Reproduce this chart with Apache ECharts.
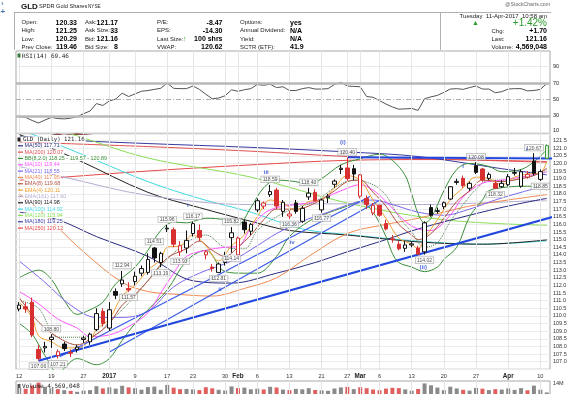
<!DOCTYPE html>
<html><head><meta charset="utf-8">
<script src="https://cdn.jsdelivr.net/npm/echarts@6.0.0/dist/echarts.min.js"></script>
<style>html,body{margin:0;padding:0;background:#fff;}#chart{width:585px;height:394px;}</style>
</head><body><div id="chart"></div>
<script>
// ---------- DATA ----------
const dates = ['2016-12-12','2016-12-13','2016-12-14','2016-12-15','2016-12-16','2016-12-19','2016-12-20','2016-12-21','2016-12-22','2016-12-23','2016-12-27','2016-12-28','2016-12-29','2016-12-30','2017-01-03','2017-01-04','2017-01-05','2017-01-06','2017-01-09','2017-01-10','2017-01-11','2017-01-12','2017-01-13','2017-01-17','2017-01-18','2017-01-19','2017-01-20','2017-01-23','2017-01-24','2017-01-25','2017-01-26','2017-01-27','2017-01-30','2017-01-31','2017-02-01','2017-02-02','2017-02-03','2017-02-06','2017-02-07','2017-02-08','2017-02-09','2017-02-10','2017-02-13','2017-02-14','2017-02-15','2017-02-16','2017-02-17','2017-02-21','2017-02-22','2017-02-23','2017-02-24','2017-02-27','2017-02-28','2017-03-01','2017-03-02','2017-03-03','2017-03-06','2017-03-07','2017-03-08','2017-03-09','2017-03-10','2017-03-13','2017-03-14','2017-03-15','2017-03-16','2017-03-17','2017-03-20','2017-03-21','2017-03-22','2017-03-23','2017-03-24','2017-03-27','2017-03-28','2017-03-29','2017-03-30','2017-03-31','2017-04-03','2017-04-04','2017-04-05','2017-04-06','2017-04-07','2017-04-10','2017-04-11'];

const open = [110.45,110.6,110.9,107.8,107.9,108.45,107.4,108.15,107.6,107.8,
108.45,108.3,109.1,110.3,109.2,111.6,112.1,111.8,112.25,112.8,
112.85,114.45,113.5,115.7,115.65,114.2,114.45,115.4,115.6,114.0,
113.2,112.85,113.5,115.13,114.0,116.15,115.55,116.95,117.2,117.95,
118.25,116.85,116.55,117.4,116.2,117.8,118.1,116.95,117.75,118.63,
119.6,119.7,119.65,117.85,117.7,116.75,117.25,116.05,115.05,114.7,
114.43,114.65,114.45,114.2,117.1,116.85,117.16,117.66,118.75,119.02,
118.37,119.85,119.63,119.02,118.69,118.47,118.6,119.35,118.5,119.1,
120.15,118.95,120.33];
const high = [110.9,110.9,111.2,108.1,108.3,108.8,107.8,108.3,107.8,108.1,
108.7,108.9,110.5,110.5,110.9,111.8,112.94,112.2,112.9,113.3,
114.1,114.51,114.2,115.96,115.8,114.9,115.6,116.17,116.0,114.3,
113.4,113.5,114.2,115.82,115.2,116.3,116.1,117.7,117.5,118.59,
118.4,117.6,116.9,117.6,117.2,118.4,118.3,117.7,118.0,118.95,
119.9,120.4,119.9,119.3,117.9,117.4,117.3,116.3,115.3,114.9,
114.9,114.9,114.6,116.2,117.3,117.1,117.5,118.5,119.0,119.2,
118.8,120.08,119.7,119.4,118.9,118.9,119.3,119.7,119.6,119.5,
120.67,119.6,121.25];
const low = [110.3,110.2,108.6,107.06,107.6,107.9,107.21,107.7,107.3,107.6,
108.2,108.1,109.0,109.3,109.0,111.1,111.9,111.57,112.0,112.6,
112.7,113.5,113.19,115.5,114.5,113.93,114.1,115.2,114.9,113.7,
112.9,112.81,113.3,114.14,113.9,115.4,115.3,116.8,117.0,117.8,
117.0,116.5,116.36,116.7,116.1,117.6,117.5,116.77,117.4,118.4,
119.3,118.85,118.9,117.7,117.0,116.6,116.5,115.6,114.8,114.3,
114.2,114.5,114.0,114.02,116.5,116.7,117.0,117.6,118.6,118.4,
118.2,119.3,118.8,118.9,118.32,118.4,118.5,119.2,118.4,119.0,
119.2,118.85,120.29];
const close = [110.7,110.45,108.75,107.2,108.0,108.6,107.65,107.85,107.55,107.95,
108.55,108.8,110.15,109.5,110.4,111.35,112.35,111.7,112.6,113.1,
113.7,113.8,114.1,115.75,114.7,114.6,114.95,116.05,115.15,114.2,
113.1,113.4,113.9,115.45,115.1,115.65,116.0,117.55,117.4,118.15,
117.2,117.45,116.68,116.85,117.05,118.05,117.55,117.6,117.85,118.84,
119.68,119.0,119.3,119.25,117.3,117.25,116.6,115.7,115.0,114.4,
114.65,114.72,114.05,116.1,116.6,116.9,117.42,118.47,118.82,118.54,
118.69,119.41,118.91,119.28,118.37,118.69,119.13,119.4,119.45,119.28,
119.35,119.46,121.16];
const volumeM = [9.1,8.2,11.5,14.4,10.3,8.7,7.9,6.8,6.1,5.2,
6.4,6.9,10.8,8.6,9.7,8.4,11.2,9.6,8.8,7.3,
9.9,10.4,7.1,12.1,9.3,7.8,8.1,7.6,6.9,9.8,
8.7,7.2,6.5,10.6,8.9,9.4,7.7,8.3,7.6,10.2,
9.5,7.4,6.9,8.1,7.7,8.8,7.0,6.6,6.2,8.5,
9.6,10.1,7.9,9.7,8.8,7.5,6.7,8.4,9.2,8.9,
7.6,6.3,8.0,13.6,11.7,9.4,6.8,10.3,8.6,7.2,
6.4,9.1,8.3,6.9,7.8,7.4,8.6,7.1,8.9,6.7,
11.4,7.3,4.57];
const rsi = [29.1,28.2,24.5,21.4,25,28.2,26.8,26.4,27.3,29,
32.7,35.9,45,42.7,48.2,50.5,57.7,53.6,56.8,60,
60.9,62.3,63.6,70,63.6,63.2,63.2,66.4,62.3,56.4,
50.9,51.8,54.5,61.8,60,61.8,63.2,68.2,67.3,68.6,
64.5,65.5,60.9,60.9,63.2,64.5,62.7,62.7,63.2,68.2,
70.9,66.4,65.9,65.5,53.6,52.7,48.6,44.5,40.9,38.2,
38.6,39.1,36.8,50.9,53.2,55,58.6,62.7,63.2,62.3,
64.5,66.4,62.7,62.7,58.2,59.5,62.7,63.2,63.2,60.5,
60.9,62.3,69.46];
const rsiTicks = [10,30,50,70,90];

// x-axis tick labels (trading-day index -> text)
const tickIdx  = [0,5,10,14,18,23,27,32,34,37,42,47,51,53,56,61,66,71,76,81];
const tickText = ['12','19','27','2017','9','17','23','30','Feb','6','13','21','27','Mar','6','13','20','27','Apr','10'];
const boldTicks = ['2017','Feb','Mar','Apr'];

// overlay lines: [day index, price]
const ma50  = [[0,116.8],[6,116.3],[12,115.2],[20,113.9],[27,112.3],[33,112.15],[40,112.8],[46,113.5],[51,114.2],[57,115.0],[62,115.7],[70,116.6],[76,117.2],[82,117.71]];
const ma200 = [[0,121.4],[20,121.1],[36,120.8],[51,120.45],[64,120.3],[82,120.07]];
const bbUpper = [[0,112.5],[3,113.0],[5,112.4],[7,111.0],[9,110.1],[11,110.4],[13,110.9],[15,112.1],[18,113.2],[20,114.3],[22,115.6],[24,116.15],[26,116.1],[29,116.4],[32,116.3],[34,116.0],[36,117.1],[38,118.4],[40,118.9],[43,118.8],[45,118.6],[47,119.0],[50,119.9],[53,120.3],[56,120.6],[58,120.2],[60,119.2],[61,118.0],[62,116.7],[63,116.1],[64,116.4],[66,118.2],[68,119.6],[70,120.0],[73,119.8],[75,119.45],[78,119.6],[80,120.1],[82,120.89]];
const bbMid = [[0,111.0],[3,110.5],[6,108.6],[9,108.6],[12,108.8],[14,109.6],[16,110.4],[18,111.3],[20,112.3],[23,113.7],[26,114.8],[29,115.3],[32,114.5],[35,114.4],[37,115.6],[40,116.5],[43,117.1],[46,117.5],[49,118.4],[52,118.9],[55,118.6],[57,117.9],[59,116.5],[61,115.5],[63,114.5],[65,114.8],[67,116.2],[69,117.3],[71,118.3],[73,118.9],[76,118.9],[79,119.1],[82,119.57]];
const bbLower = [[0,109.5],[2,108.8],[4,107.4],[6,106.3],[9,107.2],[12,106.8],[14,107.2],[16,108.4],[18,109.5],[20,110.4],[23,111.7],[26,113.6],[29,114.3],[32,112.9],[35,112.8],[37,112.8],[40,113.9],[42,115.2],[45,116.2],[47,116.6],[51,117.2],[53,117.5],[55,116.8],[57,115.2],[58,114.1],[59,113.5],[61,113.2],[63,112.9],[65,113.2],[66,113.7],[68,114.5],[70,116.5],[72,117.6],[73,118.2],[75,118.4],[78,118.5],[80,118.5],[82,118.25]];
const ma10 = [[0,111.6],[3,110.8],[6,109.8],[9,109.2],[11,108.65],[14,108.75],[17,109.3],[20,110.2],[22,111.5],[24,112.8],[26,113.9],[29,114.3],[32,114.5],[34,114.55],[36,115.8],[38,116.7],[40,117.1],[43,117.3],[46,117.5],[50,118.2],[53,118.6],[55,118.25],[57,117.5],[60,116.2],[62,115.7],[64,115.6],[67,116.6],[69,117.8],[72,118.7],[75,118.9],[78,119.1],[81,119.35],[82,119.44]];
const ma21 = [[0,113.6],[4,112.2],[8,110.7],[12,109.9],[16,109.9],[20,110.3],[24,111.9],[28,112.8],[33,113.6],[37,114.6],[40,115.4],[44,116.2],[48,116.8],[52,117.4],[55,117.6],[58,117.3],[62,116.8],[66,116.6],[70,117.0],[74,117.6],[78,118.1],[82,118.55]];
const ma40 = [[0,118.0],[3,117.0],[6,115.8],[10,114.2],[16,112.2],[20,111.6],[25,111.4],[30,111.3],[35,111.8],[40,112.5],[45,113.9],[51,115.4],[57,116.0],[62,116.4],[70,117.2],[76,117.6],[82,117.95]];
const ema8 = [[0,111.2],[3,109.6],[6,108.6],[9,108.1],[12,108.8],[14,109.5],[16,110.7],[18,111.4],[20,112.3],[23,113.8],[26,114.4],[28,114.9],[30,114.3],[32,113.9],[34,114.5],[36,115.3],[38,116.3],[40,117.0],[43,117.0],[46,117.4],[49,118.2],[51,118.8],[53,118.9],[55,118.1],[57,117.2],[59,116.0],[61,115.3],[62,115.0],[64,115.4],[66,116.4],[68,117.5],[70,118.2],[72,118.9],[75,118.8],[78,119.0],[80,119.2],[82,119.68]];
const ema4 = [[0,110.9],[2,109.9],[3,108.7],[5,108.3],[7,107.9],[9,107.9],[11,108.4],[12,109.1],[14,109.8],[16,111.3],[18,112.0],[20,113.0],[22,113.7],[23,114.5],[25,114.6],[27,115.3],[29,114.6],[31,113.6],[33,114.6],[35,115.3],[37,116.5],[39,117.6],[41,117.4],[43,116.9],[45,117.5],[47,117.6],[49,118.4],[51,119.2],[53,118.9],[55,117.6],[57,116.4],[59,115.1],[61,114.7],[62,114.4],[63,115.1],[65,116.3],[67,117.6],[69,118.4],[71,119.1],[73,119.0],[75,118.6],[77,119.1],[79,119.3],[81,119.4],[82,120.11]];
const ema161 = [[0,119.8],[7,119.1],[20,117.9],[36,117.3],[51,117.35],[62,117.3],[82,117.6]];
const ma90  = [[0,121.9],[9,120.25],[20,118.1],[28,117.1],[36,116.2],[42,115.6],[51,115.3],[62,114.85],[72,114.7],[82,114.98]];
const ma100 = [[0,122.2],[3,121.75],[12,120.2],[20,118.8],[28,117.7],[36,116.8],[44,115.7],[52,115.3],[62,114.9],[72,114.7],[82,114.92]];
const ma120 = [[5,122.3],[9,121.8],[20,120.35],[36,119.1],[51,117.4],[66,116.3],[82,115.94]];
const ma180 = [[0,121.8],[9,121.5],[20,121.3],[36,121.05],[51,120.75],[62,120.45],[75,119.65],[82,119.25]];
const ma250 = [[0,118.9],[7,119.1],[20,119.5],[36,119.9],[51,120.2],[64,120.25],[82,120.12]];

// drawn trend lines
const trendSupport = [[3,107.06],[83,116.5]];
const trendResist  = [[51,120.4],[83,120.32]];
const trendUp1 = [[6.3,107.32],[54.5,117.83]];
const trendUp2 = [[14.1,107.65],[56.1,117.6]];

// price annotations
const annHigh = [[5,108.80],[16,112.94],[21,114.51],[23,115.96],[27,116.17],[33,115.82],[39,118.59],[45,118.40],[51,120.40],[71,120.08],[80,120.67]];
const annLow  = [[3,107.06],[6,107.21],[17,111.57],[22,113.19],[25,113.93],[31,112.81],[33,114.14],[42,116.36],[47,116.77],[63,114.02],[74,118.32],[81,118.85]];
const waveText = ['i','ii','iii','iv','(i)','(ii)','i','i'];
const wavePos  = [[26.2,117.27],[31.2,111.76],[38.4,119.43],[42.4,114.8],[50.3,121.37],[62.8,113.2],[69,119.78],[78.9,120.94]];

const legendItems = [
  ['MA(50) 117.71','#2a2a80'],['MA(200) 120.07','#e05050'],['BB(8,2.0) 118.25 - 119.57 - 120.89','#3a8f3a'],
  ['MA(10) 119.44','#ff55ff'],['MA(21) 118.55','#7b68ee'],['MA(40) 117.95','#f08a50'],['EMA(8) 119.68','#b05040'],
  ['EMA(4) 120.11','#f0a030'],['EMA(161) 117.60','#b4acd0'],['MA(90) 114.98','#222222'],['MA(100) 114.92','#40d8e0'],
  ['MA(120) 115.94','#88dd55'],['MA(180) 119.25','#3a3aa0'],['MA(250) 120.12','#e84848']
];

// ---------- CHART ----------
const FONT = 'Liberation Sans, Arial, sans-serif';
const chart = echarts.init(document.getElementById('chart'), null, {renderer:'canvas'});

const RSI_TOP = 51, RSI_H = 83, RSI_MIN = 8, RSI_MAX = 109;

const lineDefs = [
  [ma250,'#e84848',1,'solid'],[ma200,'#e05050',1,'solid'],[ma180,'#3a3aa0',1,'solid'],
  [ma120,'#88dd55',1,'solid'],[ma100,'#40d8e0',1,'solid'],[ma90,'#222222',1,'solid'],
  [ema161,'#b4acd0',1,'solid'],[ma50,'#2a2a80',1,'solid'],[ma40,'#f08a50',1,'solid'],
  [bbUpper,'#3a8f3a',1,'solid'],[bbLower,'#3a8f3a',1,'solid'],[bbMid,'#4a7a4a',1,'dotted'],
  [ma21,'#7b68ee',1,'solid'],[ma10,'#ff55ff',1,'solid'],[ema8,'#b05040',1,'solid'],[ema4,'#f0a030',1,'solid']
];

const candleData = open.map((o,i)=>{
  const c = close[i], prev = i>0 ? close[i-1] : o;
  let col = c < prev ? '#d83030' : '#111111';
  let fill = c < o ? col : '#ffffff';
  if (i === open.length-1) { col = '#3c9c3c'; fill = '#e2f6e2'; }
  return {value:[o,c,low[i],high[i]], itemStyle:{color:fill,color0:fill,borderColor:col,borderColor0:col,borderWidth:1}};
});
const volData = volumeM.map((v,i)=>({value:v, itemStyle:{color: (i>0 && close[i]<close[i-1]) ? '#e06060' : '#8a8a8a'}}));

const vLines = (color)=>tickIdx.map(i=>({xAxis:i, lineStyle:{color:color, width:1, type:'solid'}}));
const mlBase = {silent:true, symbol:['none','none'], label:{show:false}, animation:false};

const rsiPts = rsi.map((v,i)=>[i,v]);
const rsiLowPts = rsiPts.filter(p=>p[0] <= 9);

const series = [];
series.push({type:'line', xAxisIndex:0, yAxisIndex:0, data:[], z:1,
  markLine:Object.assign({}, mlBase, {data:[
    ...vLines('#e6e6e6'),
    {yAxis:90, lineStyle:{color:'#e8e8e8', width:1, type:'solid'}},
    {yAxis:10, lineStyle:{color:'#e8e8e8', width:1, type:'solid'}},
    {yAxis:70, lineStyle:{color:'#b8b8b8', width:2.5, type:'solid'}},
    {yAxis:30, lineStyle:{color:'#b8b8b8', width:2.5, type:'solid'}},
    {yAxis:50, lineStyle:{color:'#b0b0b0', width:1, type:[5,2,1,2]}}
  ]})});
series.push({type:'line', xAxisIndex:2, yAxisIndex:1, data:[], z:1,
  markLine:Object.assign({}, mlBase, {data:vLines('#e4e4e4')})});
series.push({type:'line', xAxisIndex:0, yAxisIndex:0, stack:'rf', data:rsiLowPts, symbol:'none', lineStyle:{opacity:0}, z:2});
series.push({type:'line', xAxisIndex:0, yAxisIndex:0, stack:'rf', data:rsiLowPts.map(p=>[p[0],30-p[1]]), symbol:'none', lineStyle:{opacity:0}, areaStyle:{color:'#8c4c4c', opacity:1}, z:2});
series.push({type:'line', xAxisIndex:0, yAxisIndex:0, data:rsiPts, symbol:'none', lineStyle:{color:'#555', width:1}, z:3});

lineDefs.forEach(d=>{
  series.push({type:'line', xAxisIndex:2, yAxisIndex:1, data:d[0], symbol:'none', smooth:0.35,
    lineStyle:{color:d[1], width:d[2], type:d[3]}, z:3, silent:true});
});
series.push({type:'line', xAxisIndex:2, yAxisIndex:1, data:trendUp1, symbol:'none', lineStyle:{color:'#3b5ae8', width:1.2}, z:4});
series.push({type:'line', xAxisIndex:2, yAxisIndex:1, data:trendUp2, symbol:'none', lineStyle:{color:'#3b5ae8', width:1.2}, z:4});
series.push({type:'line', xAxisIndex:2, yAxisIndex:1, data:trendSupport, symbol:'none', lineStyle:{color:'#2348e0', width:2.2}, z:4});
series.push({type:'line', xAxisIndex:2, yAxisIndex:1, data:trendResist, symbol:'none', lineStyle:{color:'#2348e0', width:2.2}, z:4});
series.push({type:'candlestick', xAxisIndex:1, yAxisIndex:1, data:candleData, barWidth:4, z:6});
const annLabel = {show:true, fontSize:5, fontFamily:FONT, color:'#222', backgroundColor:'#fff', borderColor:'#9a9a9a', borderWidth:0.6, padding:[1,1.5,0,1.5], formatter:(p)=>p.value[1].toFixed(2)};
series.push({type:'scatter', xAxisIndex:2, yAxisIndex:1, data:annHigh, symbolSize:1, itemStyle:{color:'transparent'}, z:10,
  label:Object.assign({}, annLabel, {position:'top', distance:2})});
series.push({type:'scatter', xAxisIndex:2, yAxisIndex:1, data:annLow, symbolSize:1, itemStyle:{color:'transparent'}, z:10,
  label:Object.assign({}, annLabel, {position:'bottom', distance:2})});
series.push({type:'scatter', xAxisIndex:2, yAxisIndex:1, data:wavePos.map((p,k)=>({value:p, name:waveText[k]})), symbolSize:1, itemStyle:{color:'transparent'}, z:10,
  label:{show:true, position:'inside', fontSize:6, fontWeight:'bold', fontFamily:FONT, color:'#2240d0', formatter:(p)=>p.name}});
series.push({type:'bar', xAxisIndex:3, yAxisIndex:2, data:volData, barWidth:4, z:3});
series.push({type:'line', xAxisIndex:3, yAxisIndex:2, data:[], z:1,
  markLine:Object.assign({}, mlBase, {data:tickIdx.map(i=>({xAxis:dates[i], lineStyle:{color:'#e4e4e4', width:1, type:'solid'}}))})});

// ---------- GRAPHICS (header, legends) ----------
const G = [];
function T(x,y,text,o){ o=o||{}; const st = {text:text, font:(o.w||'normal')+' '+(o.s||6)+'px '+(o.f||FONT), fill:o.c||'#222', textAlign:o.a||'left', textVerticalAlign:'middle'};
  if (o.bg) { st.backgroundColor = o.bg; st.padding = [0,1,0,1]; }
  G.push({type:'text', x:x, y:y, z:o.z||100, silent:true, style:st}); }
function L(x1,y1,x2,y2,c,w){ G.push({type:'line', z:100, silent:true, shape:{x1:x1,y1:y1,x2:x2,y2:y2}, style:{stroke:c, lineWidth:w||1}}); }
function R(x,y,w,h,fill){ G.push({type:'rect', z:100, silent:true, shape:{x:x,y:y,width:w,height:h}, style:{fill:fill}}); }

T(1,3.5,'›',{s:8,c:'#6a8ab8',w:'bold'});
T(0.5,12,'+',{s:8,c:'#4a7ab0',w:'bold'});
T(21,6.5,'GLD',{s:8,w:'bold',c:'#111'});
T(39,6.5,'SPDR Gold Shares',{s:5.6,c:'#222'});
T(88,6.5,'NYSE',{s:4.6,c:'#222'});
T(550,4.5,'@StockCharts.com',{s:5.2,c:'#666',a:'right'});
L(14,12.5,551,12.5,'#b0b0b0',1);
L(14.5,12.5,14.5,50,'#b0b0b0',1);
L(440.5,12.5,440.5,50,'#b0b0b0',1);
const rowsY = [22.7,30.7,39,47];
const c1L=['Open:','High:','Low:','Prev Close:'], c1V=['120.33','121.25','120.29','119.46'];
const c2L=['Ask:','Ask Size:','Bid:','Bid Size:'], c2V=['121.17','33','121.16','8'];
const c3L=['P/E:','EPS:','Last Size:','VWAP:'], c3V=['-8.47','-14.30','100 shrs','120.62'];
const c4L=['Options:','Annual Dividend:','Yield:','SCTR (ETF):'], c4V=['yes','N/A','N/A','41.9'];
rowsY.forEach((y,k)=>{
  T(21.5,y,c1L[k],{s:6}); T(77,y,c1V[k],{s:7,w:'bold',c:'#000',a:'right'});
  T(85,y,c2L[k],{s:6}); T(118,y,c2V[k],{s:7,w:'bold',c:'#000',a:'right'});
  T(157,y,c3L[k],{s:6}); T(222.5,y,c3V[k],{s:7,w:'bold',c:'#000',a:'right'});
  T(240,y,c4L[k],{s:6}); T(290,y,c4V[k],{s:7,w:'bold',c:'#000'});
});
T(183,39,'↑',{s:7,w:'bold',c:'#2a9a2a'});
T(547,16.5,'Tuesday  11-Apr-2017  10:58 am',{s:6,a:'right'});
T(472,23.5,'▲',{s:7,c:'#2a9a2a'});
T(547,23.5,'+1.42%',{s:10,c:'#2a9a2a',a:'right'});
T(491.5,31,'Chg:',{s:6}); T(547,31,'+1.70',{s:7,w:'bold',c:'#000',a:'right'});
T(491.5,39,'Last:',{s:6}); T(547,39,'121.16',{s:7,w:'bold',c:'#000',a:'right'});
T(491.5,47,'Volume:',{s:6}); T(547,47,'4,569,048',{s:7,w:'bold',c:'#000',a:'right'});

// RSI axis labels
rsiTicks.forEach(v=>{ T(553, Math.min(130.5, RSI_TOP + (RSI_MAX - v) * RSI_H / (RSI_MAX - RSI_MIN)), String(v), {s:5.5, c:'#222', z:300}); });
R(17.5,53.5,3,4,'#3a7a3a');
T(22,56,'RSI(14) 69.46',{s:6,f:'DejaVu Sans Mono, monospace',c:'#222'});
R(17.5,137.5,3,4,'#222');
T(22,139.5,'GLD (Daily) 121.16',{s:5.7,f:'DejaVu Sans Mono, monospace',c:'#222',bg:'#fff'});
legendItems.forEach((it,k)=>{
  const y = 145.8 + k*6.33;
  L(18,y,23,y,it[1],1.2);
  T(23.5,y,it[0],{s:5.4,c:it[1],bg:'#fff'});
});
R(17.5,384,3,4,'#555');
T(22,386,'Volume 4,569,048',{s:6,f:'DejaVu Sans Mono, monospace',c:'#222'});

const option = {
  animation:false,
  backgroundColor:'#ffffff',
  textStyle:{fontFamily:FONT},
  grid:[
    {left:16, top:RSI_TOP, width:534, height:RSI_H, show:true, borderColor:'#a8a8a8', borderWidth:1},
    {left:16, top:134.4, width:534, height:234.85, show:true, borderColor:'#a8a8a8', borderWidth:1},
    {left:16, top:381, width:534, height:64, show:true, borderColor:'#a8a8a8', borderWidth:1}
  ],
  xAxis:[
    {type:'value', gridIndex:0, min:-0.5, max:82.5, show:false},
    {type:'category', gridIndex:1, data:dates, boundaryGap:true,
     axisLine:{show:false}, axisTick:{show:false}, splitLine:{show:false},
     axisLabel:{interval:(i)=>tickIdx.indexOf(i)>=0, margin:4, fontSize:5.6, color:'#333', fontFamily:FONT,
       formatter:(v,i)=>{const k=tickIdx.indexOf(i); if(k<0) return ''; const t=tickText[k]; return boldTicks.indexOf(t)>=0 ? '{b|'+t+'}' : t;},
       rich:{b:{fontWeight:'bold', fontSize:6.3, color:'#222', fontFamily:FONT}}}},
    {type:'value', gridIndex:1, min:-0.5, max:82.5, show:false},
    {type:'category', gridIndex:2, data:dates, show:false, boundaryGap:true}
  ],
  yAxis:[
    {type:'value', gridIndex:0, position:'right', min:RSI_MIN, max:RSI_MAX,
     axisLine:{show:false}, axisTick:{show:false}, splitLine:{show:false}, axisLabel:{show:false}},
    {type:'value', gridIndex:1, position:'right', min:106.5, max:121.9, interval:0.5,
     axisLine:{show:false}, axisTick:{show:false},
     splitLine:{show:true, lineStyle:{color:'#ededed', width:1}},
     axisLabel:{margin:3, fontSize:5.5, color:'#333', showMaxLabel:false, showMinLabel:false, formatter:(v)=>v.toFixed(1)}},
    {type:'value', gridIndex:2, position:'right', min:0, max:16, interval:1,
     axisLine:{show:false}, axisTick:{show:false}, splitLine:{show:false},
     axisLabel:{margin:3, fontSize:5.5, color:'#333', formatter:(v)=> Math.abs(v-14)<1e-6 ? '14M' : ''}}
  ],
  series:series,
  graphic:{elements:G}
};
chart.setOption(option);
</script></body></html>
